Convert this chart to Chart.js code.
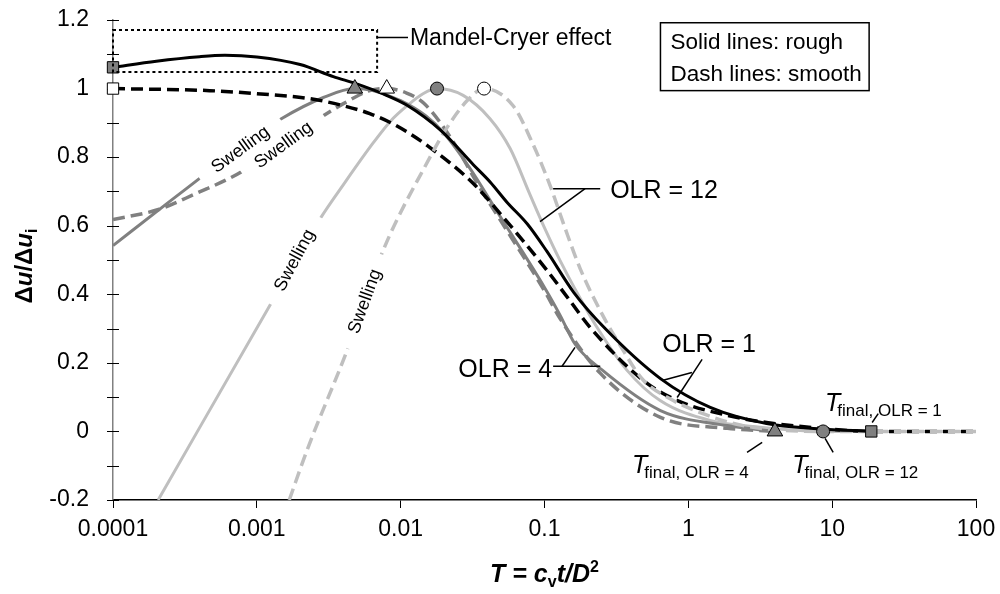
<!DOCTYPE html>
<html>
<head>
<meta charset="utf-8">
<script src="https://cdn.jsdelivr.net/npm/chart.js@4/dist/chart.umd.min.js"></script>
<style>
  html, body { margin: 0; padding: 0; background: #fff; }
  #wrap { width: 1000px; height: 594px; }
</style>
</head>
<body>
<div id="wrap"><canvas id="c" width="1000" height="594"></canvas></div>
<script>
// Time factor T = cv t / D^2 (log axis) against normalised excess pore pressure Δu/Δu_i

// OLR = 1
const T_OLR1_ROUGH  = [1e-4, 2e-4, 4e-4, 6e-4, 1e-3, 2e-3, 3.4e-3, 5e-3, 7.5e-3, 0.011, 0.019, 0.032, 0.042, 0.055, 0.076, 0.104, 0.16, 0.264, 0.64, 1.42, 3.5, 8, 18.7];
const U_OLR1_ROUGH  = [1.062, 1.080, 1.093, 1.097, 1.092, 1.070, 1.035, 1.013, 0.985, 0.952, 0.878, 0.778, 0.727, 0.668, 0.605, 0.525, 0.405, 0.300, 0.154, 0.070, 0.023, 0.008, 0.0];
const T_OLR1_SMOOTH = [1e-4, 4.7e-4, 1e-3, 2.3e-3, 4e-3, 6.1e-3, 9.5e-3, 0.016, 0.032, 0.049, 0.104, 0.151, 0.208, 0.486, 0.84, 1.86, 3.5, 8, 18.7, 100];
const U_OLR1_SMOOTH = [1.0, 0.994, 0.985, 0.971, 0.950, 0.927, 0.890, 0.828, 0.723, 0.636, 0.470, 0.380, 0.303, 0.149, 0.090, 0.047, 0.026, 0.010, 0.0, 0.0];

// OLR = 4
const T_OLR4_ROUGH  = [1e-4, 2.38e-4, 4e-4, 7e-4, 1.45e-3, 2.9e-3, 4.8e-3, 6.4e-3, 0.01, 0.015, 0.02, 0.03, 0.047, 0.1, 0.128, 0.163, 0.25, 0.64, 1.87, 4.0];
const U_OLR4_ROUGH  = [0.542, 0.665, 0.738, 0.820, 0.910, 0.974, 1.0, 0.994, 0.965, 0.920, 0.870, 0.770, 0.640, 0.420, 0.340, 0.255, 0.180, 0.061, 0.017, 0.0];
const T_OLR4_SMOOTH = [1e-4, 2.1e-4, 3.6e-4, 8e-4, 1.5e-3, 2.9e-3, 4e-3, 6.1e-3, 8e-3, 0.011, 0.0145, 0.022, 0.0355, 0.047, 0.1, 0.128, 0.244, 0.64, 1.87, 4.0];
const U_OLR4_SMOOTH = [0.618, 0.648, 0.690, 0.760, 0.845, 0.921, 0.956, 0.994, 1.0, 0.987, 0.957, 0.860, 0.711, 0.630, 0.410, 0.330, 0.170, 0.041, 0.009, 0.0];

// OLR = 12
const T_OLR12_ROUGH  = [2.06e-4, 1.28e-3, 2e-3, 2.75e-3, 4e-3, 6.4e-3, 8.5e-3, 0.0111, 0.0143, 0.0179, 0.0272, 0.0418, 0.0577, 0.0794, 0.101, 0.1284, 0.1632, 0.2322, 0.3752, 0.6368, 1.418, 3.158, 8.65, 100];
const U_OLR12_ROUGH  = [-0.2, 0.380, 0.520, 0.620, 0.720, 0.840, 0.905, 0.950, 0.985, 1.0, 0.980, 0.912, 0.825, 0.690, 0.590, 0.498, 0.415, 0.303, 0.178, 0.090, 0.032, 0.012, 0.0, 0.0];
const T_OLR12_SMOOTH = [1.68e-3, 2.27e-3, 4.24e-3, 7.55e-3, 0.016, 0.0202, 0.029, 0.038, 0.0605, 0.0827, 0.1094, 0.1392, 0.1769, 0.2436, 0.3355, 0.4851, 0.7468, 1.208, 2.404, 8.65, 100];
const U_OLR12_SMOOTH = [-0.2, -0.047, 0.236, 0.528, 0.800, 0.875, 0.965, 1.0, 0.950, 0.840, 0.717, 0.592, 0.475, 0.353, 0.251, 0.150, 0.095, 0.055, 0.017, 0.0, 0.0];

// Peak markers (OLR 1 rough/smooth, OLR 4 rough/smooth, OLR 12 rough/smooth)
const PEAK_T = [1e-4, 1e-4, 4.8e-3, 8e-3, 0.0179, 0.038];
const PEAK_U = [1.062, 1.0, 1.0, 1.0, 1.0, 1.0];
// End of consolidation, T_final (OLR 4, OLR 12, OLR 1)
const FINAL_T = [4.0, 8.65, 18.7];
const FINAL_U = [0.0, 0.0, 0.0];

// Axis ticks
const X_TICKS = [1e-4, 1e-3, 1e-2, 1e-1, 1, 10, 100];
const X_TICK_LABELS = ['0.0001', '0.001', '0.01', '0.1', '1', '10', '100'];
const Y_TICKS = [-0.2, -0.1, 0, 0.1, 0.2, 0.3, 0.4, 0.5, 0.6, 0.7, 0.8, 0.9, 1.0, 1.1, 1.2];
const Y_TICK_LABELS = ['-0.2', '', '0', '', '0.2', '', '0.4', '', '0.6', '', '0.8', '', '1', '', '1.2'];

const SANS = '"Liberation Sans", Arial, Helvetica, sans-serif';
const BLACK = '#000000', GREY = '#808080', LIGHT = '#bfbfbf';

// Annotation anchors in data units [T, Δu/Δu_i]
const SWELL_LABELS = [
  { at: [7.64e-4, 0.824], rot: -36 },
  { at: [1.52e-3, 0.837], rot: -36 },
  { at: [1.81e-3, 0.500], rot: -62 },
  { at: [5.57e-3, 0.380], rot: -70 }
];
const MANDEL_BOX = { t0: 1e-4, t1: 0.00686, u0: 1.048, u1: 1.171 };

function pts(ts, us) { return ts.map((t, i) => ({ x: t, y: us[i] })); }

function curve(ts, us, color, dashed, order) {
  return {
    data: pts(ts, us),
    borderColor: color,
    borderWidth: dashed ? 3.5 : 3,
    borderDash: dashed ? [12, 6] : [],
    borderCapStyle: 'butt',
    cubicInterpolationMode: 'monotone',
    pointRadius: 0,
    fill: false,
    order: order
  };
}

// Draws a run of text pieces with individual fonts / vertical offsets
function richText(ctx, runs, x, y, align) {
  let total = 0;
  for (const r of runs) { ctx.font = r.font; r.w = ctx.measureText(r.text).width + (r.kern || 0); total += r.w; }
  let cx = align === 'center' ? x - total / 2 : x;
  ctx.textAlign = 'left';
  ctx.textBaseline = 'alphabetic';
  for (const r of runs) { ctx.font = r.font; ctx.fillText(r.text, cx, y + (r.dy || 0)); cx += r.w; }
}

const decorations = {
  id: 'decorations',
  beforeDatasetsDraw(chart) {
    const { ctx, chartArea, scales: { y } } = chart;
    ctx.save();
    ctx.strokeStyle = BLACK;
    ctx.lineWidth = 1;
    ctx.beginPath();
    for (const v of Y_TICKS) {
      const py = Math.round(y.getPixelForValue(v)) + 0.5;
      ctx.moveTo(chartArea.left - 6, py);
      ctx.lineTo(chartArea.left + 6, py);
    }
    ctx.stroke();
    ctx.restore();
  },
  afterDraw(chart) {
    const { ctx, chartArea, scales: { x, y } } = chart;
    const P = (t, u) => [x.getPixelForValue(t), y.getPixelForValue(u)];
    ctx.save();

    // "Swelling" labels sitting in gaps of the rising branches
    for (const s of SWELL_LABELS) {
      const [px, py] = P(s.at[0], s.at[1]);
      ctx.save();
      ctx.translate(px, py);
      ctx.rotate(s.rot * Math.PI / 180);
      ctx.fillStyle = '#fff';
      ctx.fillRect(-50, -11, 100, 22);
      ctx.fillStyle = BLACK;
      ctx.font = '18px ' + SANS;
      ctx.textAlign = 'center';
      ctx.textBaseline = 'middle';
      ctx.fillText('Swelling', 0, 1);
      ctx.restore();
    }

    // Mandel-Cryer effect box and its leader
    const [bx0, by1] = P(MANDEL_BOX.t0, MANDEL_BOX.u1);
    const [bx1, by0] = P(MANDEL_BOX.t1, MANDEL_BOX.u0);
    ctx.strokeStyle = BLACK;
    ctx.lineWidth = 2;
    ctx.setLineDash([3, 3]);
    ctx.strokeRect(bx0, by1, bx1 - bx0, by0 - by1);
    ctx.setLineDash([]);
    ctx.lineWidth = 1.5;
    const seg = (a, b) => {
      const [x0, y0] = P(a[0], a[1]); const [x1, y1] = P(b[0], b[1]);
      ctx.beginPath(); ctx.moveTo(x0, y0); ctx.lineTo(x1, y1); ctx.stroke();
    };
    seg([0.00686, 1.149], [0.01125, 1.149]);
    ctx.fillStyle = BLACK;
    ctx.font = '23px ' + SANS;
    ctx.textAlign = 'left';
    ctx.textBaseline = 'alphabetic';
    let [tx, ty] = P(0.0116, 1.149);
    ctx.fillText('Mandel-Cryer effect', tx, ty + 8);

    // Line-style key
    const [k0x, k0y] = P(0.64, 1.192);
    const [k1x, k1y] = P(18.07, 0.994);
    ctx.lineWidth = 1.5;
    ctx.strokeRect(k0x, k0y, k1x - k0x, k1y - k0y);
    ctx.font = '22.5px ' + SANS;
    ctx.fillText('Solid lines: rough', k0x + 10, k0y + 26);
    ctx.fillText('Dash lines: smooth', k0x + 10, k0y + 58);

    // OLR leaders and labels
    ctx.lineWidth = 1.5;
    seg([0.1148, 0.708], [0.244, 0.708]);
    seg([0.1915, 0.708], [0.0931, 0.612]);
    ctx.font = '25px ' + SANS;
    [tx, ty] = P(0.286, 0.708);
    ctx.fillText('OLR = 12', tx, ty + 9);

    seg([1.247, 0.210], [0.836, 0.099]);
    seg([1.06, 0.172], [0.668, 0.149]);
    [tx, ty] = P(0.658, 0.259);
    ctx.fillText('OLR = 1', tx, ty + 9);

    seg([0.1148, 0.190], [0.244, 0.190]);
    seg([0.1325, 0.190], [0.163, 0.245]);
    [tx, ty] = P(0.113, 0.184);
    ctx.textAlign = 'right';
    ctx.fillText('OLR = 4', tx, ty + 9);
    ctx.textAlign = 'left';

    // T_final labels
    const tFinal = (t, u, sub) => {
      const [px, py] = P(t, u);
      ctx.font = 'italic 25px ' + SANS;
      ctx.textAlign = 'left';
      ctx.fillText('T', px, py);
      const w = ctx.measureText('T').width;
      ctx.font = '17px ' + SANS;
      ctx.fillText(sub, px + w - 3, py + 5);
    };
    ctx.lineWidth = 1.5;
    seg([20.9, 0.052], [18.97, 0.026]);
    tFinal(8.93, 0.061, 'final, OLR = 1');
    seg([2.56, -0.061], [3.26, -0.032]);
    tFinal(0.406, -0.122, 'final, OLR = 4');
    seg([8.93, -0.020], [10.16, -0.061]);
    tFinal(5.27, -0.122, 'final, OLR = 12');

    // Axis titles
    const bi = 'bold italic 25px ' + SANS;
    const bs = 'bold 16px ' + SANS;
    ctx.fillStyle = BLACK;
    richText(ctx, [
      { text: 'T = c', font: bi },
      { text: 'v', font: bs, dy: 5 },
      { text: 't/D', font: bi },
      { text: '2', font: bs, dy: -10 }
    ], (chartArea.left + chartArea.right) / 2, 582, 'center');

    ctx.save();
    ctx.translate(32, 266);
    ctx.rotate(-Math.PI / 2);
    richText(ctx, [
      { text: 'Δ', font: 'bold 24px ' + SANS },
      { text: 'u', font: 'bold italic 24px ' + SANS },
      { text: '/Δ', font: 'bold 24px ' + SANS },
      { text: 'u', font: 'bold italic 24px ' + SANS },
      { text: 'i', font: 'bold 16px ' + SANS, dy: 5 }
    ], 0, 0, 'center');
    ctx.restore();

    ctx.restore();
  }
};

Chart.defaults.font.family = SANS;
Chart.defaults.color = BLACK;

new Chart(document.getElementById('c'), {
  type: 'line',
  data: {
    datasets: [
      {
        data: pts(PEAK_T, PEAK_U),
        showLine: false,
        pointStyle: ['rect', 'rect', 'triangle', 'triangle', 'circle', 'circle'],
        pointRadius: [8, 8, 9, 9, 6.5, 6.5],
        pointBackgroundColor: [GREY, '#ffffff', GREY, '#ffffff', GREY, '#ffffff'],
        pointBorderColor: BLACK,
        pointBorderWidth: 1,
        clip: false,
        order: 0
      },
      {
        data: pts(FINAL_T, FINAL_U),
        showLine: false,
        pointStyle: ['triangle', 'circle', 'rect'],
        pointRadius: [9, 6.5, 8],
        pointBackgroundColor: GREY,
        pointBorderColor: BLACK,
        pointBorderWidth: 1,
        clip: false,
        order: 0
      },
      // lower order is drawn on top
      curve(T_OLR1_ROUGH, U_OLR1_ROUGH, BLACK, false, 1),
      curve(T_OLR12_SMOOTH, U_OLR12_SMOOTH, LIGHT, true, 2),
      curve(T_OLR1_SMOOTH, U_OLR1_SMOOTH, BLACK, true, 3),
      curve(T_OLR4_ROUGH, U_OLR4_ROUGH, GREY, false, 4),
      curve(T_OLR4_SMOOTH, U_OLR4_SMOOTH, GREY, true, 5),
      curve(T_OLR12_ROUGH, U_OLR12_ROUGH, LIGHT, false, 6)
    ]
  },
  options: {
    responsive: false,
    animation: false,
    devicePixelRatio: 1,
    layout: { padding: { top: 20, right: 24, left: 0, bottom: 0 } },
    plugins: { legend: { display: false }, tooltip: { enabled: false } },
    scales: {
      x: {
        type: 'logarithmic',
        min: 1e-4,
        max: 100,
        afterBuildTicks: s => { s.ticks = X_TICKS.map(v => ({ value: v })); },
        afterFit: s => { s.height = 94; s.paddingLeft = 0; s.paddingRight = 0; },
        ticks: {
          callback: (v, i) => X_TICK_LABELS[i],
          color: BLACK,
          font: { size: 23 },
          padding: 8,
          maxRotation: 0,
          autoSkip: false
        },
        grid: { drawOnChartArea: false, drawTicks: true, tickLength: 8, color: BLACK, lineWidth: 1 },
        border: { display: true, color: BLACK, width: 1.5 }
      },
      y: {
        type: 'linear',
        min: -0.2,
        max: 1.2,
        afterBuildTicks: s => { s.ticks = Y_TICKS.map(v => ({ value: v })); },
        afterFit: s => { s.width = 113; s.paddingTop = 0; s.paddingBottom = 0; },
        ticks: {
          callback: (v, i) => Y_TICK_LABELS[i],
          color: BLACK,
          font: { size: 23 },
          padding: 24,
          autoSkip: false
        },
        grid: { drawOnChartArea: false, drawTicks: false },
        border: { display: true, color: GREY, width: 1.5 }
      }
    }
  },
  plugins: [decorations]
});
</script>
</body>
</html>
